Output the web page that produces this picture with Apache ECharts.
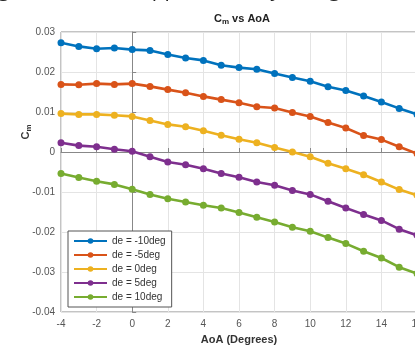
<!DOCTYPE html>
<html>
<head>
<meta charset="utf-8">
<script src="https://cdn.jsdelivr.net/npm/echarts@6/dist/echarts.min.js"></script>
<style>
html,body{margin:0;padding:0;background:#fff;}
#c{width:415px;height:348px;}
</style>
</head>
<body>
<div id="c"></div>
<script>
const aoa = [-4,-3,-2,-1,0,1,2,3,4,5,6,7,8,9,10,11,12,13,14,15,16];
const seriesNames = ['de = -10deg','de = -5deg','de = 0deg','de = 5deg','de = 10deg'];
const cmDeM10 = [0.0273,0.0264,0.0258,0.0260,0.0256,0.0254,0.0244,0.0235,0.0229,0.0217,0.0211,0.0207,0.0196,0.0186,0.0177,0.0163,0.0154,0.0140,0.0125,0.0109,0.0094];
const cmDeM5  = [0.0169,0.0168,0.0171,0.0169,0.0171,0.0164,0.0156,0.0148,0.0139,0.0131,0.0123,0.0113,0.0110,0.0099,0.0089,0.0074,0.0060,0.0041,0.0031,0.0013,-0.0004];
const cmDe0   = [0.0096,0.0094,0.0094,0.0092,0.0089,0.0079,0.0069,0.0063,0.0053,0.0042,0.0032,0.0023,0.0011,0.0000,-0.0012,-0.0028,-0.0042,-0.0057,-0.0075,-0.0094,-0.0108];
const cmDe5   = [0.0023,0.0016,0.0013,0.0007,0.0002,-0.0012,-0.0025,-0.0032,-0.0042,-0.0054,-0.0063,-0.0075,-0.0083,-0.0096,-0.0106,-0.0123,-0.0140,-0.0156,-0.0171,-0.0193,-0.0208];
const cmDe10  = [-0.0054,-0.0064,-0.0073,-0.0081,-0.0093,-0.0106,-0.0117,-0.0125,-0.0133,-0.0140,-0.0151,-0.0163,-0.0175,-0.0188,-0.0198,-0.0214,-0.0229,-0.0248,-0.0265,-0.0288,-0.0304];
const allData = [cmDeM10, cmDeM5, cmDe0, cmDe5, cmDe10];
const colors = ['#0072BD','#D95319','#EDB120','#7E2F8E','#77AC30'];

const chart = echarts.init(document.getElementById('c'), null, {renderer:'canvas'});
const fmt = v => { const r = Math.round(v*100)/100; return r === 0 ? '0' : String(r); };
const font = 'Liberation Sans, Arial, sans-serif';
chart.setOption({
  animation:false,
  backgroundColor:'#fff',
  color: colors,
  title:{
    text:'C{sub|m} vs AoA',
    left:237, top:7, textAlign:'center',
    textStyle:{fontSize:11,fontWeight:'bold',color:'#222',fontFamily:font,
      rich:{sub:{fontSize:8,fontWeight:'bold',color:'#222',verticalAlign:'bottom',padding:[6,0,0,0],fontFamily:font}}}
  },
  grid:{left:61,top:32,right:-2,bottom:36,outerBoundsMode:'none',containLabel:false,show:true,borderColor:'#888',borderWidth:1,backgroundColor:'#fff'},
  legend:{
    orient:'vertical', left:68, top:231, data:seriesNames,
    itemWidth:33, itemHeight:7, itemGap:4,
    padding:[5,6,5,5],
    borderColor:'#555', borderWidth:1, backgroundColor:'#fff',
    textStyle:{fontSize:10,color:'#333',fontFamily:font}
  },
  xAxis:{
    type:'value', min:-4, max:16, interval:2,
    name:'AoA (Degrees)', nameLocation:'middle', nameGap:22,
    nameTextStyle:{fontSize:11,fontWeight:'bold',color:'#333',fontFamily:font},
    axisLine:{show:true,lineStyle:{color:'#888'}},
    axisTick:{show:true,inside:true,length:4,lineStyle:{color:'#888'}},
    axisLabel:{fontSize:10,color:'#555',fontFamily:font,margin:7},
    splitLine:{show:true,lineStyle:{color:'#e4e4e4',width:1}}
  },
  yAxis:{
    type:'value', min:-0.04, max:0.03, interval:0.01,
    axisLine:{show:true,lineStyle:{color:'#888'}},
    axisTick:{show:true,inside:true,length:4,lineStyle:{color:'#888'}},
    axisLabel:{fontSize:10,color:'#555',fontFamily:font,margin:6,formatter:fmt},
    splitLine:{show:true,lineStyle:{color:'#e4e4e4',width:1}}
  },
  graphic:[
    {type:'text',left:-2,top:-20,style:{text:'g',fontSize:21,fill:'#222',fontFamily:'Open Sans, sans-serif'}},
    {type:'text',left:140,top:-20,style:{text:'approximately 0 degrees',fontSize:21,fill:'#222',fontFamily:'Open Sans, sans-serif'}},
    {type:'text',x:26,y:132,rotation:Math.PI/2,style:{text:'C{sub|m}',align:'center',verticalAlign:'middle',
      font:'bold 11px Liberation Sans, Arial, sans-serif',fill:'#333',
      rich:{sub:{fontSize:8,fontWeight:'bold',fill:'#333',verticalAlign:'bottom',padding:[5,0,0,0],fontFamily:font}}}}
  ],
  series: allData.map((d,i)=>({
    name:seriesNames[i], type:'line',
    data: aoa.map((x,j)=>[x,d[j]]),
    symbol:'circle', symbolSize:7, showSymbol:true,
    lineStyle:{width:2.6,color:colors[i]},
    itemStyle:{color:colors[i]},
    clip:false
  }))
});
</script>
</body>
</html>
